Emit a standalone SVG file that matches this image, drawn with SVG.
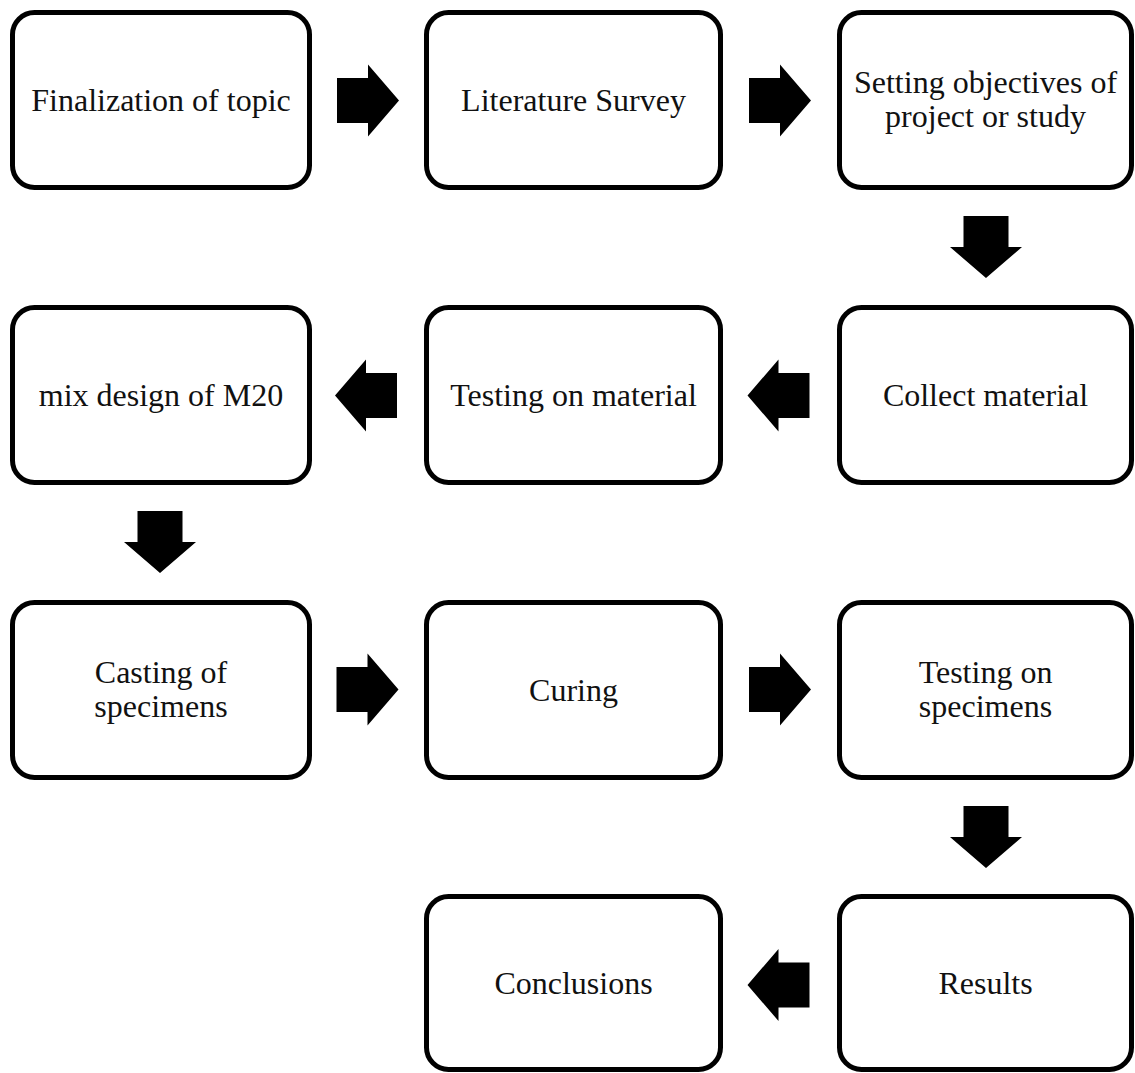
<svg xmlns="http://www.w3.org/2000/svg" xmlns:xlink="http://www.w3.org/1999/xlink" width="1135" height="1073" viewBox="0 0 1135 1073">
<style>
.box{fill:#fff;stroke:#000;stroke-width:5}
.t{font-family:"Liberation Serif","Times New Roman",serif;font-size:32px;fill:#111;text-anchor:middle}
.arr{fill:#000}
</style>
<defs>
<path id="ar" d="M-31,-22.5 H0 V-36 L31,0 L0,36 V22.5 H-31 Z"/>
</defs>
<rect width="1135" height="1073" fill="#fff"/>
<g id="n1"><rect class="box" x="12.5" y="12.5" width="297" height="175" rx="22"/><text class="t" x="161" y="111">Finalization of topic</text></g>
<g id="n2"><rect class="box" x="426.5" y="12.5" width="294" height="175" rx="22"/><text class="t" x="573.5" y="111">Literature Survey</text></g>
<g id="n3"><rect class="box" x="839.5" y="12.5" width="292" height="175" rx="22"/><text class="t" x="985.5" y="93">Setting objectives of</text><text class="t" x="985.5" y="127">project or study</text></g>
<g id="n4"><rect class="box" x="839.5" y="307.5" width="292" height="175" rx="22"/><text class="t" x="985.5" y="406">Collect material</text></g>
<g id="n5"><rect class="box" x="426.5" y="307.5" width="294" height="175" rx="22"/><text class="t" x="573.5" y="406">Testing on material</text></g>
<g id="n6"><rect class="box" x="12.5" y="307.5" width="297" height="175" rx="22"/><text class="t" x="161" y="406">mix design of M20</text></g>
<g id="n7"><rect class="box" x="12.5" y="602.5" width="297" height="175" rx="22"/><text class="t" x="161" y="683">Casting of</text><text class="t" x="161" y="717">specimens</text></g>
<g id="n8"><rect class="box" x="426.5" y="602.5" width="294" height="175" rx="22"/><text class="t" x="573.5" y="701">Curing</text></g>
<g id="n9"><rect class="box" x="839.5" y="602.5" width="292" height="175" rx="22"/><text class="t" x="985.5" y="683">Testing on</text><text class="t" x="985.5" y="717">specimens</text></g>
<g id="n10"><rect class="box" x="839.5" y="896.5" width="292" height="173" rx="22"/><text class="t" x="985.5" y="994">Results</text></g>
<g id="n11"><rect class="box" x="426.5" y="896.5" width="294" height="173" rx="22"/><text class="t" x="573.5" y="994">Conclusions</text></g>
<g id="connectors" class="arr">
<use xlink:href="#ar" href="#ar" transform="translate(368,100.5)"/>
<use xlink:href="#ar" href="#ar" transform="translate(780,100.5)"/>
<use xlink:href="#ar" href="#ar" transform="translate(986,247) rotate(90)"/>
<use xlink:href="#ar" href="#ar" transform="translate(778.5,395.5) rotate(180)"/>
<use xlink:href="#ar" href="#ar" transform="translate(366,395.5) rotate(180)"/>
<use xlink:href="#ar" href="#ar" transform="translate(160,542) rotate(90)"/>
<use xlink:href="#ar" href="#ar" transform="translate(367.5,689.5)"/>
<use xlink:href="#ar" href="#ar" transform="translate(780,689.5)"/>
<use xlink:href="#ar" href="#ar" transform="translate(986,837) rotate(90)"/>
<use xlink:href="#ar" href="#ar" transform="translate(778.5,985) rotate(180)"/>
</g>
</svg>
